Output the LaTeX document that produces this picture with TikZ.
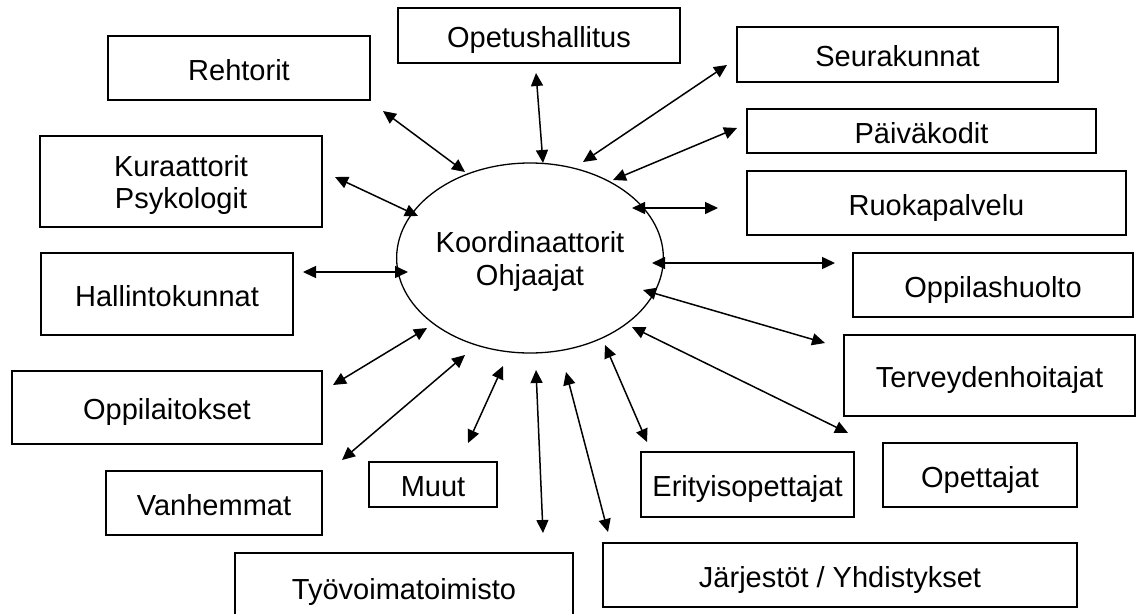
\documentclass[tikz,border=0pt]{standalone}
\usepackage{fontspec}
\setmainfont{Liberation Sans}
\usetikzlibrary{arrows.meta,shapes.geometric}
\begin{document}
\begin{tikzpicture}[x=1pt,y=-1pt,
  frame/.style={draw, line width=1.5pt, inner sep=0pt, font=\fontsize{29}{32}\selectfont, align=center, text depth=0pt},
  box/.style={frame, text height=24.5pt},
  twoline/.style={frame},
  hub/.style={draw, ellipse, line width=1.3pt, inner sep=0pt, font=\fontsize{29}{33}\selectfont, align=center, text depth=0pt, minimum width=224pt, minimum height=190pt},
  link/.style={{Triangle[length=13pt,width=12pt]}-{Triangle[length=13pt,width=12pt]}, line width=1.5pt}]
\fill[white] (0,0) rectangle (1137,613);
\useasboundingbox (0,0) rectangle (1137,613);

% hub
\node[hub] (hub) at (530,258) {Koordinaattorit\\Ohjaajat};

% boxes
\node[box, minimum width=262pt, minimum height=64pt] (reh) at (239,68) {Rehtorit};
\node[box, minimum width=282pt, minimum height=55pt] (opet) at (539,35.5) {Opetushallitus};
\node[box, minimum width=321pt, minimum height=55pt] (seur) at (897.5,54.5) {Seurakunnat};
\node[box, minimum width=349pt, minimum height=44pt] (paiv) at (921.5,131) {Päiväkodit};
\node[box, minimum width=379pt, minimum height=64pt] (ruok) at (936.5,203) {Ruokapalvelu};
\node[twoline, minimum width=282pt, minimum height=91pt] (kur) at (181,181.5) {Kuraattorit\\Psykologit};
\node[box, minimum width=252pt, minimum height=82pt] (hall) at (167,294) {Hallintokunnat};
\node[box, minimum width=280pt, minimum height=64pt] (oppl) at (993,285) {Oppilashuolto};
\node[box, minimum width=291pt, minimum height=81pt] (terv) at (989.5,375.5) {Terveydenhoitajat};
\node[box, minimum width=310pt, minimum height=73pt] (oppi) at (167,407.5) {Oppilaitokset};
\node[box, minimum width=194pt, minimum height=64pt] (opett) at (980,475) {Opettajat};
\node[box, minimum width=216pt, minimum height=64pt] (vanh) at (214,503) {Vanhemmat};
\node[box, minimum width=128pt, minimum height=45pt] (muut) at (433,484.5) {Muut};
\node[box, minimum width=213pt, minimum height=65pt] (erit) at (747.5,484.5) {Erityisopettajat};
\node[box, minimum width=338pt, minimum height=69pt] (tyo) at (404,587.5) {Työvoimatoimisto};
\node[box, minimum width=474pt, minimum height=64pt] (jarj) at (840,575) {Järjestöt / Yhdistykset};

% connector ends
\coordinate (rehA) at (383,111);   \coordinate (rehB) at (465,172);
\coordinate (opetA) at (536,73);   \coordinate (opetB) at (543,163);
\coordinate (seurA) at (727,65);   \coordinate (seurB) at (583,162);
\coordinate (paivA) at (737,128);  \coordinate (paivB) at (613,180);
\coordinate (ruokA) at (718,208);  \coordinate (ruokB) at (632,208);
\coordinate (kurA) at (335,177);   \coordinate (kurB) at (418,216);
\coordinate (hallA) at (303,272);  \coordinate (hallB) at (408,272);
\coordinate (opplA) at (835,263);  \coordinate (opplB) at (652,263);
\coordinate (tervA) at (825,343);  \coordinate (tervB) at (643,290);
\coordinate (opettA) at (848,433); \coordinate (opettB) at (632,327);
\coordinate (oppiA) at (333,385);  \coordinate (oppiB) at (427,328);
\coordinate (vanhA) at (342,460);  \coordinate (vanhB) at (465,355);
\coordinate (muutA) at (468,443);  \coordinate (muutB) at (503,366);
\coordinate (tyoA) at (543,533);   \coordinate (tyoB) at (536,370);
\coordinate (jarjA) at (608,532);  \coordinate (jarjB) at (566,372);
\coordinate (eritA) at (647,442);  \coordinate (eritB) at (605,345);

\foreach \n in {reh,opet,seur,paiv,ruok,kur,hall,oppl,terv,opett,oppi,vanh,muut,tyo,jarj,erit}
  \draw[link] (\n A) -- (\n B);
\end{tikzpicture}
\end{document}
